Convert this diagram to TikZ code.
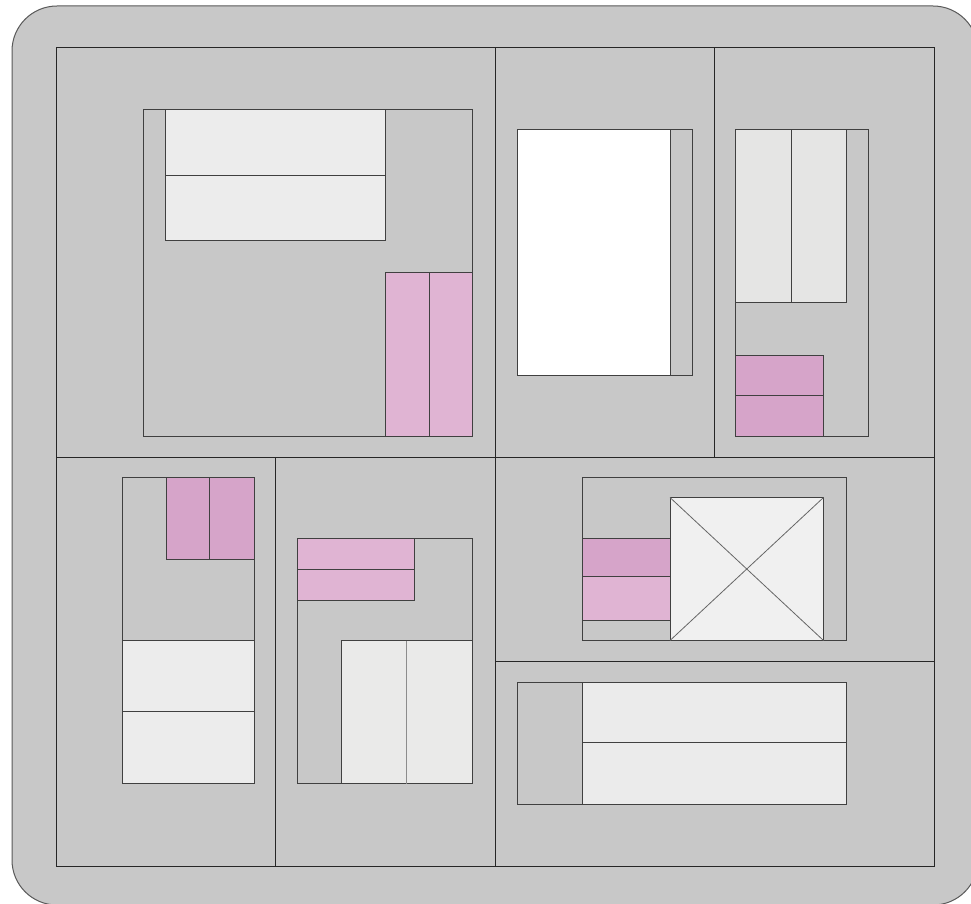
\documentclass[tikz,border=0pt]{standalone}
\begin{document}
\begin{tikzpicture}[x=1pt,y=-1pt,
  wall/.style={draw=black!85,line width=1pt},
  thin/.style={draw=black!75,line width=0.9pt},
  floorbg/.style={fill=floorgrey},
  lightA/.style={fill=lightgrey,thin},
  lightB/.style={fill=lightgreyb,thin},
  pinkA/.style={fill=pinkl,thin},
  pinkB/.style={fill=pinkd,thin}]
\definecolor{floorgrey}{HTML}{C8C8C8}
\definecolor{lightgrey}{HTML}{ECECEC}
\definecolor{lightgreyb}{HTML}{E5E5E4}
\definecolor{pinkl}{HTML}{E0B4D3}
\definecolor{pinkd}{HTML}{D6A4C9}
\definecolor{elev}{HTML}{F0F0F0}
\useasboundingbox (0,0) rectangle (971,904);
\clip (0,0) rectangle (971,904);
\fill[white] (0,0) rectangle (971,904);
% outer rounded slab
\draw[fill=floorgrey,draw=black!65,line width=1pt,rounded corners=45pt] (12,6) rectangle (978,905);
% outer frame and partitions
\draw[wall] (56,48) rectangle (934,866);
\draw[wall] (495,48) -- (495,866);
\draw[wall] (714,48) -- (714,457);
\draw[wall] (56,457) -- (934,457);
\draw[wall] (275,457) -- (275,866);
\draw[wall] (495,661) -- (934,661);
% room 1
\draw[thin] (143.5,109.5) rectangle (472.5,436.5);
\draw[lightA] (165.5,109.5) rectangle (385.5,240);
\draw[thin] (165.5,175) -- (385.5,175);
\draw[pinkA] (385.5,272.5) rectangle (472.5,436.5);
\draw[thin] (429,272.5) -- (429,436.5);
% room 2
\draw[thin] (517,129.5) rectangle (692,375.5);
\draw[fill=white,thin] (517,129.5) rectangle (670,375);
% room 3
\draw[thin] (735.5,129.5) rectangle (868,436.5);
\draw[lightB] (735.5,129.5) rectangle (846,302.5);
\draw[thin] (791,129.5) -- (791,302.5);
\draw[pinkB] (735.5,355) rectangle (823.5,436);
\draw[thin] (735.5,395.5) -- (823.5,395.5);
% room 4
\draw[thin] (122.5,477.5) rectangle (254,783.5);
\draw[pinkB] (166,477.5) rectangle (254,559);
\draw[thin] (209.5,477.5) -- (209.5,559);
\draw[lightA] (122.5,640.5) rectangle (254,783.5);
\draw[thin] (122.5,711.5) -- (254,711.5);
% room 5
\draw[thin] (297.5,538.5) rectangle (472.5,783.5);
\draw[pinkA] (297.5,538.5) rectangle (414,600);
\draw[thin] (297.5,569.5) -- (414,569.5);
\draw[fill=lightgreyb!80!white,thin] (341,640.5) rectangle (472.5,783.5);
\draw[draw=black!45,line width=0.9pt] (406.5,640.5) -- (406.5,783.5);
% room 6
\draw[thin] (582.5,477.5) rectangle (846,640.5);
\draw[pinkB] (582.5,538.5) rectangle (670,576.5);
\draw[pinkA] (582.5,576.5) rectangle (670,620.5);
\draw[fill=elev,thin] (670,497.5) rectangle (823.5,640.5);
\draw[draw=black!60,line width=0.8pt] (670,497.5) -- (823.5,640.5);
\draw[draw=black!60,line width=0.8pt] (670,640.5) -- (823.5,497.5);
% room 7
\draw[thin] (517,682) rectangle (846,804);
\draw[fill=lightgrey!90!lightgreyb,thin] (582.5,682) rectangle (846,804);
\draw[thin] (582.5,742.5) -- (846,742.5);
\end{tikzpicture}
\end{document}
